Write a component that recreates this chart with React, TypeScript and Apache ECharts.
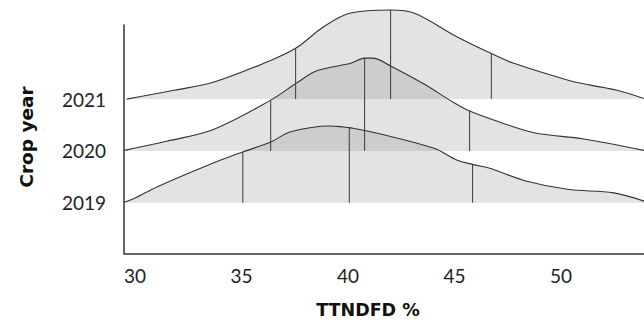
import React, { useEffect, useRef } from "react";
import * as echarts from "echarts";

const years = [2019, 2020, 2021];
const xTicks = [30, 35, 40, 45, 50];

// density curves: x positions (TTNDFD %) and ridge heights (in year units)
const x2019 = [29.48, 29.95, 31.05, 33.39, 35.06, 36.37, 37.31, 39.19, 39.81, 40.06, 41.38, 44.04, 45.13, 45.85, 46.7, 48.26, 50.3, 52.49, 53.9];
const h2019 = [0.01, 0.08, 0.31, 0.72, 0.98, 1.17, 1.37, 1.48, 1.46, 1.45, 1.34, 1.05, 0.82, 0.74, 0.66, 0.43, 0.26, 0.19, 0.03];

const x2020 = [29.48, 31.52, 33.71, 36.37, 37.62, 38.56, 40.13, 40.78, 41.14, 42.0, 43.57, 44.98, 45.71, 47.17, 48.73, 51.08, 53.9];
const h2020 = [0.01, 0.19, 0.42, 0.98, 1.32, 1.55, 1.69, 1.79, 1.79, 1.64, 1.29, 0.93, 0.77, 0.55, 0.35, 0.23, 0.01];

const x2021 = [29.61, 31.83, 33.71, 36.21, 37.54, 38.87, 40.12, 42.0, 43.1, 45.13, 46.73, 47.79, 50.3, 51.39, 52.64, 53.9];
const h2021 = [0.0, 0.17, 0.33, 0.72, 0.98, 1.4, 1.66, 1.72, 1.66, 1.2, 0.88, 0.69, 0.37, 0.27, 0.17, 0.01];

// quartiles (Q1, median, Q3)
const q2019 = [35.06, 40.06, 45.85];
const q2020 = [36.37, 40.78, 45.71];
const q2021 = [37.54, 42.0, 46.73];

const curves = [
  { year: years[0], xs: x2019, hs: h2019, qs: q2019 },
  { year: years[1], xs: x2020, hs: h2020, qs: q2020 },
  { year: years[2], xs: x2021, hs: h2021, qs: q2021 },
];

function interp(xs: number[], hs: number[], x: number) {
  for (let i = 0; i < xs.length - 1; i++) {
    if (x >= xs[i] && x <= xs[i + 1]) {
      const t = (x - xs[i]) / (xs[i + 1] - xs[i]);
      return hs[i] + t * (hs[i + 1] - hs[i]);
    }
  }
  return 0;
}

const FONT = "Lato";
const TITLE_FONT = "DejaVu Sans";

export default function App() {
  const ref = useRef<HTMLDivElement>(null);
  useEffect(() => {
    if (!ref.current) return;
    const chart = echarts.init(ref.current, null, { renderer: "svg" });
    const series: any[] = [];
    curves.forEach((c) => {
      series.push({
        type: "line",
        name: String(c.year),
        data: c.xs.map((x, i) => [x, c.year + c.hs[i]]),
        smooth: 0.35,
        symbol: "none",
        clip: false,
        lineStyle: { color: "#333", width: 1.1 },
        areaStyle: { color: "rgba(124,124,124,0.21)", origin: c.year, opacity: 1 },
        z: 2,
      });
    });
    const qData: any[] = [];
    curves.forEach((c) => {
      c.qs.forEach((q) => {
        qData.push([q, c.year, c.year + interp(c.xs, c.hs, q)]);
      });
    });
    series.push({
      type: "custom",
      clip: false,
      data: qData,
      encode: { x: 0, y: [1, 2] },
      z: 3,
      renderItem: (params: any, api: any) => {
        const p0 = api.coord([api.value(0), api.value(1)]);
        const p1 = api.coord([api.value(0), api.value(2)]);
        return {
          type: "line",
          shape: { x1: p0[0], y1: p0[1], x2: p1[0], y2: p1[1] },
          style: { stroke: "#3a3a3a", lineWidth: 1 },
        };
      },
    });
    chart.setOption({
      animation: false,
      backgroundColor: "#fff",
      grid: { left: 124, right: 0, top: 25, bottom: 68.5 },
      xAxis: {
        type: "value",
        min: 29.48,
        max: 53.9,
        splitLine: { show: false },
        axisTick: { show: false },
        axisLine: { lineStyle: { color: "#333", width: 1.5 } },
        axisLabel: {
          customValues: xTicks,
          color: "#222",
          fontFamily: FONT,
          fontSize: 19,
          margin: 12,
        },
      },
      yAxis: {
        type: "value",
        min: 2018.02,
        max: 2022.43,
        splitLine: { show: false },
        axisTick: { show: false },
        axisLine: { show: true, lineStyle: { color: "#333", width: 1.5 } },
        axisLabel: {
          customValues: years,
          color: "#222",
          fontFamily: FONT,
          fontSize: 19,
          margin: 18,
          padding: [0, 0, 5, 0],
          formatter: (v: number) => String(Math.round(v)),
        },
      },
      graphic: [
        {
          type: "text",
          x: 26,
          y: 137,
          rotation: Math.PI / 2,
          style: {
            text: "Crop year",
            fontFamily: TITLE_FONT,
            fontWeight: "bold",
            fontSize: 18.5,
            fill: "#111",
            align: "center",
            verticalAlign: "middle",
          },
        },
        {
          type: "text",
          x: 368,
          y: 310,
          style: {
            text: "TTNDFD %",
            fontFamily: TITLE_FONT,
            fontWeight: "bold",
            fontSize: 17.5,
            fill: "#111",
            align: "center",
            verticalAlign: "middle",
          },
        },
      ],
      series,
    });
    return () => chart.dispose();
  }, []);
  return (
    <div
      ref={ref}
      style={{ position: "fixed", left: 0, top: 0, width: 644, height: 322 }}
    />
  );
}
